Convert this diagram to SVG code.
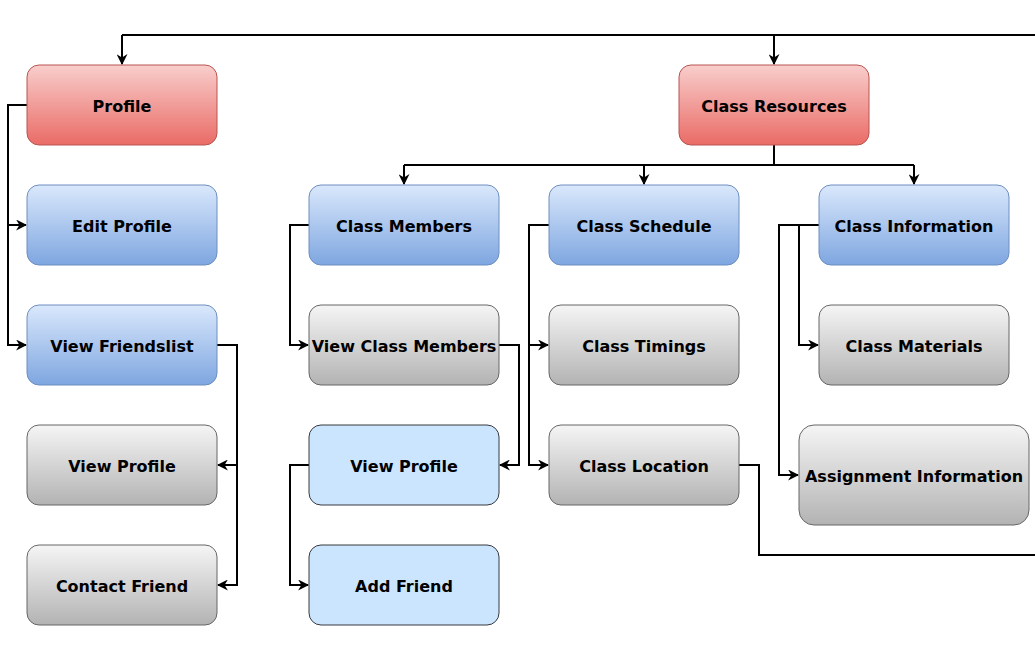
<svg xmlns="http://www.w3.org/2000/svg" width="1035" height="645" viewBox="0 0 1035 645">
<style>
.t{font-family:"DejaVu Sans",Verdana,sans-serif;font-weight:bold;font-size:16px;fill:#000;text-anchor:middle}
.red{fill:url(#gr);stroke:#b85450;stroke-width:1}
.blue{fill:url(#gb);stroke:#6c8ebf;stroke-width:1}
.gray{fill:url(#gg);stroke:#666666;stroke-width:1}
.lb{fill:#cce5ff;stroke:#36393d;stroke-width:1}
.c{fill:none;stroke:#000;stroke-width:2}
.a{fill:none;stroke:#000;stroke-width:2;marker-end:url(#arr)}
</style>
<defs>
<linearGradient id="gr" x1="0" y1="0" x2="0" y2="1"><stop offset="0" stop-color="#f8cecc"/><stop offset="1" stop-color="#ea6b66"/></linearGradient>
<linearGradient id="gb" x1="0" y1="0" x2="0" y2="1"><stop offset="0" stop-color="#dae8fc"/><stop offset="1" stop-color="#7ea6e0"/></linearGradient>
<linearGradient id="gg" x1="0" y1="0" x2="0" y2="1"><stop offset="0" stop-color="#f5f5f5"/><stop offset="1" stop-color="#b3b3b3"/></linearGradient>
<marker id="arr" viewBox="0 0 10 10" refX="9" refY="5" markerWidth="11" markerHeight="11" markerUnits="userSpaceOnUse" orient="auto">
<path d="M0,0 L10,5 L0,10 L3,5 Z" fill="#000"/>
</marker>
</defs>
<g id="connectors">
<path class="c" d="M122,35 H1035"/>
<path class="a" d="M122,35 V64"/>
<path class="a" d="M774,35 V64"/>
<path class="c" d="M774,145 V165 M404,165 H914"/>
<path class="a" d="M404,165 V184"/>
<path class="a" d="M644,165 V184"/>
<path class="a" d="M914,165 V184"/>
<path class="a" d="M27,105 H8 V225 H26"/>
<path class="a" d="M8,225 V345 H26"/>
<path class="a" d="M217,345 H237 V465 H218"/>
<path class="a" d="M237,465 V585 H218"/>
<path class="a" d="M309,225 H290 V345 H308"/>
<path class="a" d="M499,345 H519 V465 H500"/>
<path class="a" d="M309,465 H290 V585 H308"/>
<path class="a" d="M549,225 H529 V345 H548"/>
<path class="a" d="M529,345 V465 H548"/>
<path class="a" d="M819,225 H799 V345 H818"/>
<path class="a" d="M799,225 H779 V475 H798"/>
<path class="c" d="M739,465 H759 V555 H1035"/>
</g>
<g id="profile"><rect class="red" x="27" y="65" width="190" height="80" rx="12"/><text class="t" x="122" y="112">Profile</text></g>
<g id="class-resources"><rect class="red" x="679" y="65" width="190" height="80" rx="12"/><text class="t" x="774" y="112">Class Resources</text></g>
<g id="edit-profile"><rect class="blue" x="27" y="185" width="190" height="80" rx="12"/><text class="t" x="122" y="232">Edit Profile</text></g>
<g id="view-friendslist"><rect class="blue" x="27" y="305" width="190" height="80" rx="12"/><text class="t" x="122" y="352">View Friendslist</text></g>
<g id="view-profile-1"><rect class="gray" x="27" y="425" width="190" height="80" rx="12"/><text class="t" x="122" y="472">View Profile</text></g>
<g id="contact-friend"><rect class="gray" x="27" y="545" width="190" height="80" rx="12"/><text class="t" x="122" y="592">Contact Friend</text></g>
<g id="class-members"><rect class="blue" x="309" y="185" width="190" height="80" rx="12"/><text class="t" x="404" y="232">Class Members</text></g>
<g id="view-class-members"><rect class="gray" x="309" y="305" width="190" height="80" rx="12"/><text class="t" x="404" y="352">View Class Members</text></g>
<g id="view-profile-2"><rect class="lb" x="309" y="425" width="190" height="80" rx="12"/><text class="t" x="404" y="472">View Profile</text></g>
<g id="add-friend"><rect class="lb" x="309" y="545" width="190" height="80" rx="12"/><text class="t" x="404" y="592">Add Friend</text></g>
<g id="class-schedule"><rect class="blue" x="549" y="185" width="190" height="80" rx="12"/><text class="t" x="644" y="232">Class Schedule</text></g>
<g id="class-timings"><rect class="gray" x="549" y="305" width="190" height="80" rx="12"/><text class="t" x="644" y="352">Class Timings</text></g>
<g id="class-location"><rect class="gray" x="549" y="425" width="190" height="80" rx="12"/><text class="t" x="644" y="472">Class Location</text></g>
<g id="class-information"><rect class="blue" x="819" y="185" width="190" height="80" rx="12"/><text class="t" x="914" y="232">Class Information</text></g>
<g id="class-materials"><rect class="gray" x="819" y="305" width="190" height="80" rx="12"/><text class="t" x="914" y="352">Class Materials</text></g>
<g id="assignment-information"><rect class="gray" x="799" y="425" width="230" height="100" rx="15"/><text class="t" x="914" y="482">Assignment Information</text></g>
</svg>
